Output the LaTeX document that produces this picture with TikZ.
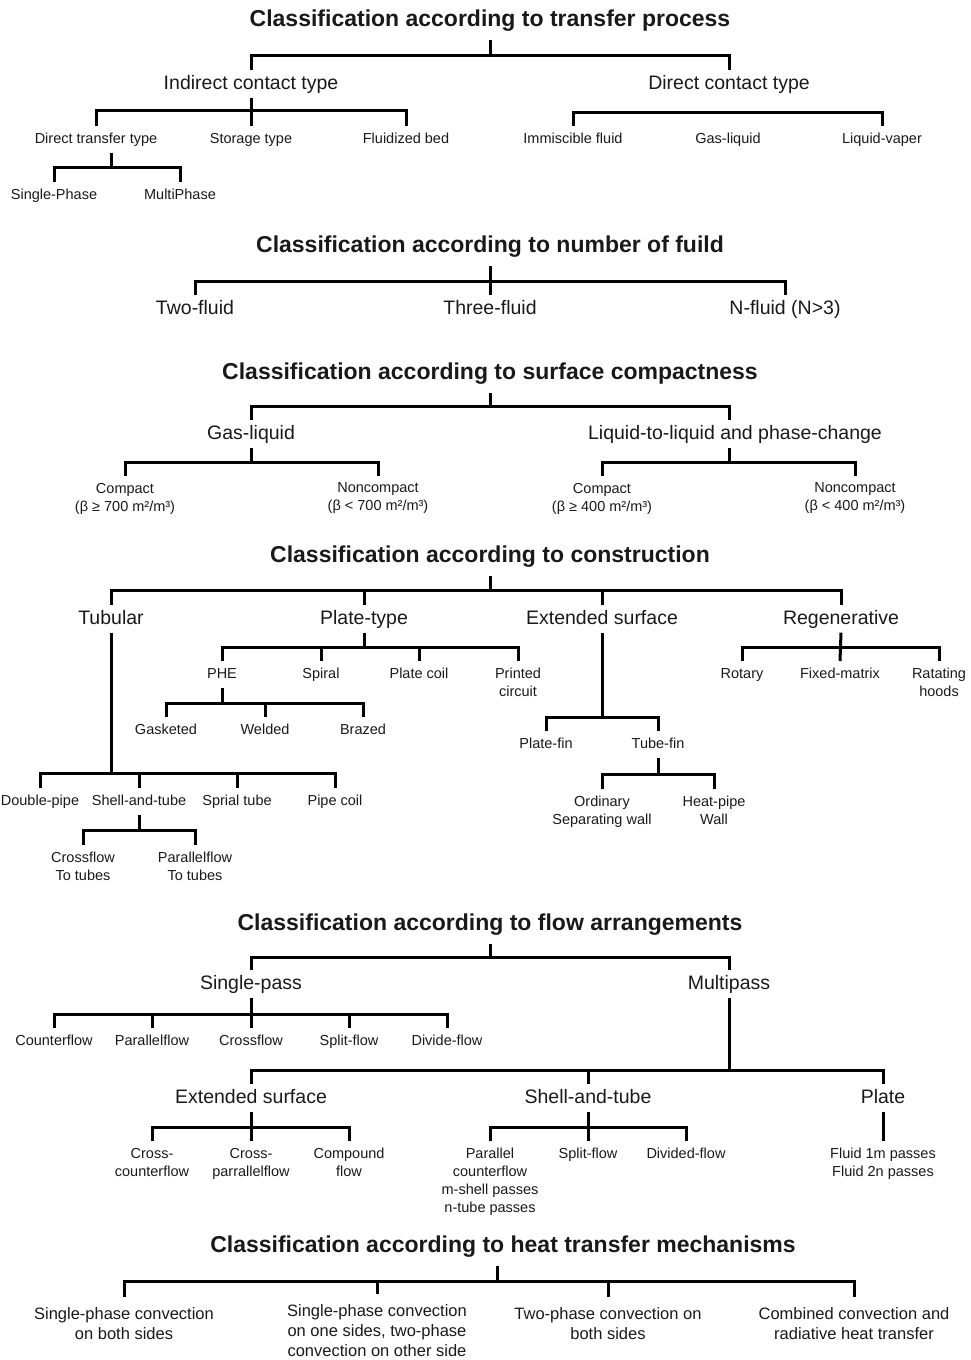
\documentclass[tikz,border=0pt]{standalone}
\usepackage{fontspec}
\setmainfont{Liberation Sans}
\newcommand\ttlfont{\fontsize{23}{27}\selectfont\bfseries}
\newcommand\midfont{\fontsize{19.5}{23}\selectfont}
\newcommand\smlfont{\fontsize{14.5}{18}\selectfont}
\newcommand\botfont{\fontsize{16.5}{20}\selectfont}
\tikzset{
  link/.style={line width=3pt},
  ttl/.style={font=\ttlfont, anchor=base, inner sep=0pt, text depth=0pt, outer ysep=14pt},
  mid/.style={font=\midfont, anchor=north, inner xsep=2pt, inner ysep=5.5pt, text height=14.2pt, text depth=2.1pt},
  sml/.style={font=\smlfont, anchor=north, inner xsep=2pt, inner ysep=6.8pt},
  one/.style={text height=10.6pt, text depth=2.6pt},
  mul/.style={align=center},
  bot/.style={font=\botfont, anchor=north, inner ysep=10pt, align=center}
}
\begin{document}
\begin{tikzpicture}[x=1pt,y=-1pt,text=black!90]
  \useasboundingbox (0,0) rectangle (970,1360);

  \node[ttl] (tp) at (490,26) {Classification according to transfer process};
  \coordinate (tpbar) at (490,55);
  \node[mid] (ict) at (251,70) {Indirect contact type};
  \node[mid] (dct) at (729,70) {Direct contact type};
  \draw[link] (tp.south) -- (tpbar);
  \draw[link] (ict.north) |- (tpbar) -| (dct.north);
  \node[sml,one] (dtt) at (96,126) {Direct transfer type};
  \node[sml,one] (sty) at (251,126) {Storage type};
  \node[sml,one] (fbd) at (406,126) {Fluidized bed};
  \coordinate (ictbar) at (251,110);
  \draw[link] (ict.south) -- (sty.north);
  \draw[link] (dtt.north) |- (ictbar) -| (fbd.north);
  \node[sml,one] (sgp) at (54,182) {Single-Phase};
  \node[sml,one] (mlp) at (180,182) {MultiPhase};
  \coordinate (dttbar) at (111,167);
  \draw[link] (dtt.south -| dttbar) -- (dttbar);
  \draw[link] (sgp.north) |- (dttbar) -| (mlp.north);
  \node[sml,one] (imf) at (573,126) {Immiscible fluid};
  \node[sml,one] (gsl) at (728,126) {Gas-liquid};
  \node[sml,one] (lqv) at (882,126) {Liquid-vaper};
  \coordinate (dctbar) at (729,112);
  \draw[link] (imf.north) |- (dctbar) -| (lqv.north);

  \node[ttl] (nf) at (490,252) {Classification according to number of fuild};
  \coordinate (nfbar) at (490,281);
  \node[mid] (twf) at (195,295) {Two-fluid};
  \node[mid] (thf) at (490,295) {Three-fluid};
  \node[mid] (nnf) at (785,295) {N-fluid (N>3)};
  \draw[link] (nf.south) -- (thf.north);
  \draw[link] (twf.north) |- (nfbar) -| (nnf.north);

  \node[ttl] (sc) at (490,379) {Classification according to surface compactness};
  \coordinate (scbar) at (490,406);
  \node[mid] (gsq) at (251,420) {Gas-liquid};
  \node[mid] (lql) at (735,420) {Liquid-to-liquid and phase-change};
  \draw[link] (sc.south) -- (scbar);
  \draw[link] (gsq.north) |- (scbar) -| ([xshift=-6pt]lql.north);
  \node[sml,mul] (cp7) at (125,476) {Compact\\(β ≥ 700 m²/m³)};
  \node[sml,mul] (nc7) at (378,476) {Noncompact\\(β < 700 m²/m³)};
  \coordinate (gsqbar) at (251,462);
  \draw[link] (gsq.south) -- (gsqbar);
  \draw[link] (cp7.north) |- (gsqbar) -| (nc7.north);
  \node[sml,mul] (cp4) at (602,476) {Compact\\(β ≥ 400 m²/m³)};
  \node[sml,mul] (nc4) at (855,476) {Noncompact\\(β < 400 m²/m³)};
  \coordinate (lqlbar) at (729,462);
  \draw[link] (lql.south -| lqlbar) -- (lqlbar);
  \draw[link] (cp4.north) |- (lqlbar) -| (nc4.north);

  \node[ttl] (cn) at (490,562) {Classification according to construction};
  \coordinate (cnbar) at (490,590);
  \node[mid] (tub) at (111,605) {Tubular};
  \node[mid] (plt) at (364,605) {Plate-type};
  \node[mid] (exs) at (602,605) {Extended surface};
  \node[mid] (rgn) at (841,605) {Regenerative};
  \draw[link] (cn.south) -- (cnbar);
  \draw[link] (tub.north) |- (cnbar) -| (rgn.north);
  \draw[link] (plt.north) -- (plt.north |- cnbar);
  \draw[link] (exs.north) -- (exs.north |- cnbar);
  \node[sml,one] (dbp) at (40,788) {Double-pipe};
  \node[sml,one] (sat) at (139,788) {Shell-and-tube};
  \node[sml,one] (spt) at (237,788) {Sprial tube};
  \node[sml,one] (ppc) at (335,788) {Pipe coil};
  \coordinate (tubbar) at (111,773);
  \draw[link] (tub.south) -- (tubbar);
  \draw[link] (dbp.north) |- (tubbar) -| (ppc.north);
  \draw[link] (sat.north) -- (sat.north |- tubbar);
  \draw[link] (spt.north) -- (spt.north |- tubbar);
  \node[sml,mul] (cft) at (83,845) {Crossflow\\To tubes};
  \node[sml,mul] (pft) at (195,845) {Parallelflow\\To tubes};
  \coordinate (satbar) at (139,830);
  \draw[link] (sat.south) -- (satbar);
  \draw[link] (cft.north) |- (satbar) -| (pft.north);
  \node[sml,one] (phe) at (222,661) {PHE};
  \node[sml,one] (spr) at (321,661) {Spiral};
  \node[sml,one] (pcl) at (419,661) {Plate coil};
  \node[sml,mul] (pcc) at (518,661) {Printed\\circuit};
  \coordinate (pltbar) at (364,647);
  \draw[link] (plt.south) -- (pltbar);
  \draw[link] (phe.north) |- (pltbar) -| (pcc.north);
  \draw[link] (spr.north) -- (spr.north |- pltbar);
  \draw[link] (pcl.north) -- (pcl.north |- pltbar);
  \node[sml,one] (gsk) at (166,717) {Gasketed};
  \node[sml,one] (wld) at (265,717) {Welded};
  \node[sml,one] (brz) at (363,717) {Brazed};
  \coordinate (phebar) at (222,703);
  \draw[link] (phe.south) -- (phebar);
  \draw[link] (gsk.north) |- (phebar) -| (brz.north);
  \draw[link] (wld.north) -- (wld.north |- phebar);
  \node[sml,one] (plf) at (546,731) {Plate-fin};
  \node[sml,one] (tbf) at (658,731) {Tube-fin};
  \coordinate (exsbar) at (602,717);
  \draw[link] (exs.south) -- (exsbar);
  \draw[link] (plf.north) |- (exsbar) -| (tbf.north);
  \node[sml,mul] (osw) at (602,789) {Ordinary\\Separating wall};
  \node[sml,mul] (hpw) at (714,789) {Heat-pipe\\Wall};
  \coordinate (tbfbar) at (658,774);
  \draw[link] (tbf.south) -- (tbfbar);
  \draw[link] (osw.north) |- (tbfbar) -| (hpw.north);
  \node[sml,one] (rot) at (742,661) {Rotary};
  \node[sml,one] (fxm) at (840,661) {Fixed-matrix};
  \node[sml,mul] (rth) at (939,661) {Ratating\\hoods};
  \coordinate (rgnbar) at (841,647);
  \draw[link] (rgn.south) -- (fxm.north);
  \draw[link] (rot.north) |- (rgnbar) -| (rth.north);

  \node[ttl] (fa) at (490,930) {Classification according to flow arrangements};
  \coordinate (fabar) at (490,957);
  \node[mid] (sgl) at (251,970) {Single-pass};
  \node[mid] (mlt) at (729,970) {Multipass};
  \draw[link] (fa.south) -- (fabar);
  \draw[link] (sgl.north) |- (fabar) -| (mlt.north);
  \node[sml,one] (cnt) at (54,1028) {Counterflow};
  \node[sml,one] (pfl) at (152,1028) {Parallelflow};
  \node[sml,one] (crf) at (251,1028) {Crossflow};
  \node[sml,one] (spf) at (349,1028) {Split-flow};
  \node[sml,one] (dvf) at (447,1028) {Divide-flow};
  \coordinate (sglbar) at (251,1014);
  \draw[link] (sgl.south) -- (crf.north);
  \draw[link] (cnt.north) |- (sglbar) -| (dvf.north);
  \draw[link] (pfl.north) -- (pfl.north |- sglbar);
  \draw[link] (spf.north) -- (spf.north |- sglbar);
  \node[mid] (exf) at (251,1084) {Extended surface};
  \node[mid] (stf) at (588,1084) {Shell-and-tube};
  \node[mid] (plb) at (883,1084) {Plate};
  \coordinate (mltbar) at (729,1070);
  \draw[link] (mlt.south) -- (mltbar);
  \draw[link] (exf.north) |- (mltbar) -| (plb.north);
  \draw[link] (stf.north) -- (stf.north |- mltbar);
  \node[sml,mul] (ccf) at (152,1141) {Cross-\\counterflow};
  \node[sml,mul] (cpf) at (251,1141) {Cross-\\parrallelflow};
  \node[sml,mul] (cpd) at (349,1141) {Compound\\flow};
  \coordinate (exfbar) at (251,1127);
  \draw[link] (exf.south) -- (cpf.north);
  \draw[link] (ccf.north) |- (exfbar) -| (cpd.north);
  \node[sml,mul] (pcm) at (490,1141) {Parallel\\counterflow\\m-shell passes\\n-tube passes};
  \node[sml,one] (sfl) at (588,1141) {Split-flow};
  \node[sml,one] (dfl) at (686,1141) {Divided-flow};
  \coordinate (stfbar) at (588,1127);
  \draw[link] (stf.south) -- (sfl.north);
  \draw[link] (pcm.north) |- (stfbar) -| (dfl.north);
  \node[sml,mul] (fld) at (883,1141) {Fluid 1m passes\\Fluid 2n passes};
  \draw[link] (plb.south) -- (fld.north);

  \node[ttl] (ht) at (503,1252) {Classification according to heat transfer mechanisms};
  \coordinate (htbar) at (497,1281);
  \draw[link] (ht.south -| htbar) -- (htbar);
  \node[bot] (sbs) at (124,1297) {Single-phase convection\\on both sides};
  \node[bot] (sot) at (377,1294) {Single-phase convection\\on one sides, two-phase\\convection on other side};
  \node[bot] (tbs) at (608,1297) {Two-phase convection on\\both sides};
  \node[bot] (crh) at (854,1297) {Combined convection and\\radiative heat transfer};
  \draw[link] (sbs.north) |- (htbar) -| (crh.north);
  \draw[link] (sot.north) -- (sot.north |- htbar);
  \draw[link] (tbs.north) -- (tbs.north |- htbar);
\end{tikzpicture}
\end{document}
